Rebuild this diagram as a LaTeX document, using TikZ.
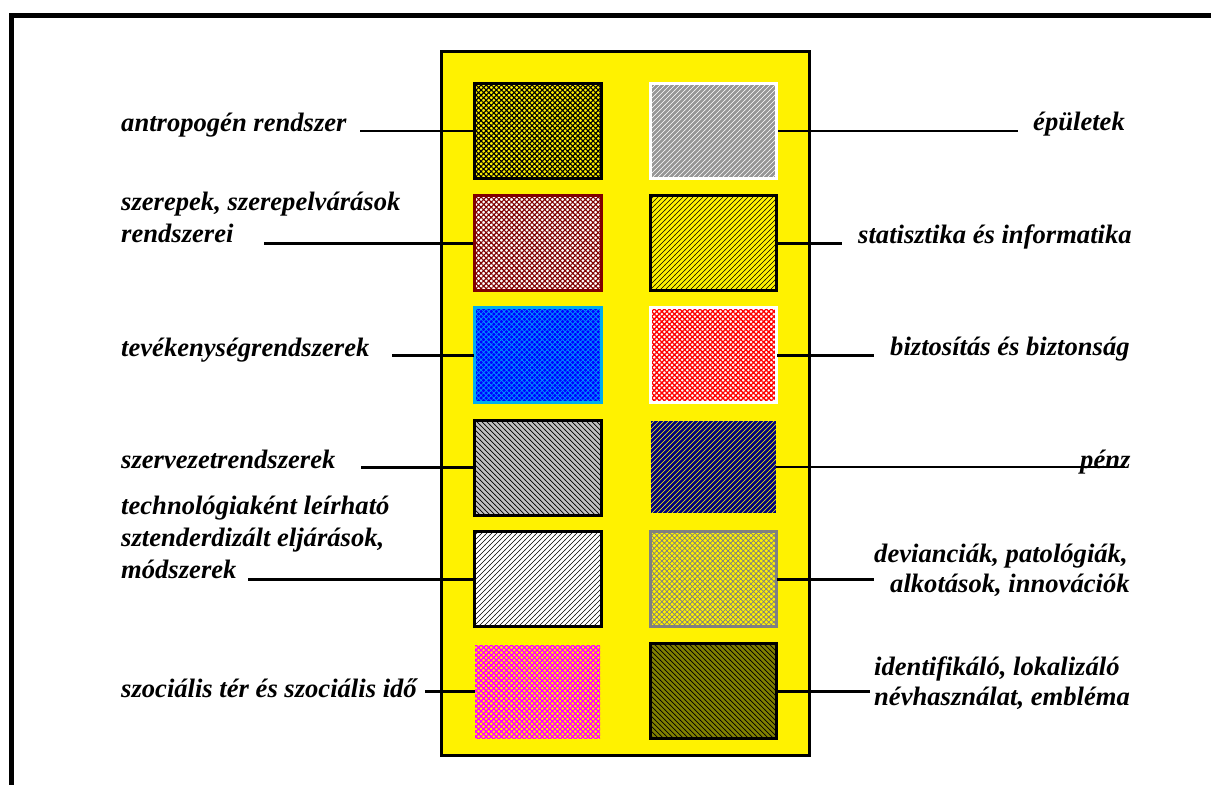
\documentclass[tikz,border=0pt]{standalone}
\usepackage{fontspec}
\setmainfont{Liberation Serif}
\usetikzlibrary{patterns,patterns.meta}
\pgfdeclarepatternformonly{myne}{\pgfqpoint{-1pt}{-1pt}}{\pgfqpoint{6pt}{6pt}}{\pgfqpoint{5pt}{5pt}}{%
  \pgfsetlinewidth{0.7pt}%
  \pgfpathmoveto{\pgfqpoint{-0.1pt}{-0.1pt}}%
  \pgfpathlineto{\pgfqpoint{5.1pt}{5.1pt}}%
  \pgfusepath{stroke}}
\pgfdeclarepatternformonly{mynw}{\pgfqpoint{-1pt}{-1pt}}{\pgfqpoint{6pt}{6pt}}{\pgfqpoint{5pt}{5pt}}{%
  \pgfsetlinewidth{0.7pt}%
  \pgfpathmoveto{\pgfqpoint{-0.1pt}{5.1pt}}%
  \pgfpathlineto{\pgfqpoint{5.1pt}{-0.1pt}}%
  \pgfusepath{stroke}}
\pgfdeclarepatternformonly{mynethin}{\pgfqpoint{-1pt}{-1pt}}{\pgfqpoint{6pt}{6pt}}{\pgfqpoint{5pt}{5pt}}{%
  \pgfsetlinewidth{0.5pt}%
  \pgfpathmoveto{\pgfqpoint{-0.1pt}{-0.1pt}}%
  \pgfpathlineto{\pgfqpoint{5.1pt}{5.1pt}}%
  \pgfusepath{stroke}}
\begin{document}
\begin{tikzpicture}[x=1pt,y=-1pt,
  lbl/.style={font=\fontsize{26.6}{32}\selectfont\bfseries\itshape, inner sep=0pt, align=left},
  conn/.style={line width=2.5pt},
  box/.style={minimum width=126.5pt, minimum height=95pt, inner sep=0pt, line width=3pt},
  hatchp/.style={pattern={Hatch[angle=45,distance=3.6pt,line width=1.1pt]}},
  nelines/.style={pattern=myne},
  nwlines/.style={pattern=mynw}]
\definecolor{dred}{HTML}{800000}
\definecolor{navy}{HTML}{000080}
\definecolor{olivec}{HTML}{808000}
\definecolor{grayc}{HTML}{969696}
\definecolor{silverc}{HTML}{C0C0C0}
\definecolor{grayb}{HTML}{808080}
\useasboundingbox (0,0) rectangle (1211,785);
% outer frame (top and left)
\draw[line width=4.5pt, miter limit=10] (1211,15.3) -- (11.7,15.3) -- (11.7,785);
% yellow panel
\node[draw=black, fill=yellow, line width=2.5pt, minimum width=367.8pt, minimum height=704pt, inner sep=0pt] (panel) at (625.6,403.5) {};
% boxes
\node[box, draw=black, preaction={fill=yellow}, hatchp, pattern color=black] (b1l) at (537.8,131.2) {};
\node[box, draw=white, preaction={fill=grayc}, nelines, pattern color=white] (b1r) at (713.5,131.2) {};
\node[box, draw=dred, preaction={fill=white}, hatchp, pattern color=dred] (b2l) at (537.8,243.3) {};
\node[box, draw=black, preaction={fill=yellow}, nelines, pattern color=black] (b2r) at (713.5,243.3) {};
\node[box, draw=cyan, preaction={fill=blue}, pattern={Hatch[angle=45,distance=3.6pt,line width=0.8pt]}, pattern color=cyan!55!blue] (b3l) at (537.8,355.3) {};
\node[box, draw=white, preaction={fill=white}, pattern={Hatch[angle=45,distance=3.6pt,line width=1.3pt]}, pattern color=red] (b3r) at (713.5,355.3) {};
\node[box, draw=black, preaction={fill=silverc}, nwlines, pattern color=black] (b4l) at (537.8,467.5) {};
\node[minimum width=125pt, minimum height=92.3pt, inner sep=0pt, preaction={fill=navy}, pattern=mynethin, pattern color=yellow] (b4r) at (713.5,467) {};
\node[box, draw=black, preaction={fill=white}, nelines, pattern color=black] (b5l) at (537.8,579.3) {};
\node[box, draw=grayb, preaction={fill=yellow}, pattern={Hatch[angle=45,distance=3.6pt,line width=0.75pt]}, pattern color=grayb] (b5r) at (713.5,579.3) {};
\node[minimum width=125pt, minimum height=93pt, inner sep=0pt, preaction={fill=yellow}, pattern={Hatch[angle=45,distance=3.6pt,line width=1.3pt]}, pattern color=magenta] (b6l) at (537.7,691.7) {};
\node[box, draw=black, preaction={fill=olivec}, nwlines, pattern color=black] (b6r) at (713.5,691.3) {};
% left labels (multi-line nodes are anchored at the baseline of their last line)
\node[lbl, anchor=base west] (t1l) at (121,131) {antropogén rendszer};
\node[lbl, anchor=base west] (t2l) at (121,242.5) {szerepek, szerepelvárások\\rendszerei};
\node[lbl, anchor=base west] (t3l) at (121,356) {tevékenységrendszerek};
\node[lbl, anchor=base west] (t4l) at (121,468) {szervezetrendszerek};
\node[lbl, anchor=base west] (t5l) at (121,578.5) {technológiaként leírható\\sztenderdizált eljárások,\\módszerek};
\node[lbl, anchor=base west] (t6l) at (121,697) {szociális tér és szociális idő};
% right labels
\node[lbl, anchor=base west] (t1r) at (1033,130) {épületek};
\node[lbl, anchor=base west] (t2r) at (858,243) {statisztika és informatika};
\node[lbl, anchor=base west] (t3r) at (890,355) {biztosítás és biztonság};
\node[lbl, anchor=base west] (t4r) at (1080,468) {pénz};
\node[lbl, anchor=base west, font=\fontsize{26.6}{30}\selectfont\bfseries\itshape] (t5r) at (874,592.5) {devianciák, patológiák,\\\hspace*{16pt}alkotások, innovációk};
\node[lbl, anchor=base west, font=\fontsize{26.6}{30}\selectfont\bfseries\itshape] (t6r) at (874,705) {identifikáló, lokalizáló\\névhasználat, embléma};
% connector free ends
\coordinate (c1l) at (360,131.2);
\coordinate (c2l) at (264,243.3);
\coordinate (c3l) at (392,355.3);
\coordinate (c4l) at (361,467.5);
\coordinate (c5l) at (248,579.3);
\coordinate (c6l) at (425,691.7);
\coordinate (c1r) at (1018,131.2);
\coordinate (c2r) at (842,243.3);
\coordinate (c3r) at (874,355.3);
\coordinate (c4r) at (1125,467);
\coordinate (c5r) at (874,579.3);
\coordinate (c6r) at (870,691.3);
% connectors
\draw[conn] (c1l) -- (b1l.west);
\draw[conn] (c2l) -- (b2l.west);
\draw[conn] (c3l) -- (b3l.west);
\draw[conn] (c4l) -- (b4l.west);
\draw[conn] (c5l) -- (b5l.west);
\draw[conn] (c6l) -- (b6l.west);
\draw[conn] (b1r.east) -- (c1r);
\draw[conn] (b2r.east) -- (c2r);
\draw[conn] (b3r.east) -- (c3r);
\draw[conn] (b4r.east) -- (c4r);
\draw[conn] (b5r.east) -- (c5r);
\draw[conn] (b6r.east) -- (c6r);
\end{tikzpicture}
\end{document}
